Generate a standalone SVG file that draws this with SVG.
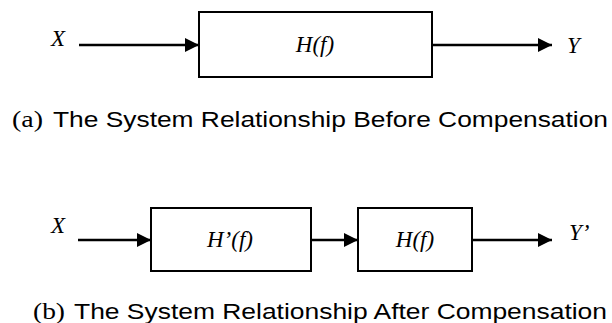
<svg xmlns="http://www.w3.org/2000/svg" width="612" height="323" viewBox="0 0 612 323">
<style>
.box{fill:#fff;stroke:#000;stroke-width:2}
.wire{stroke:#000;stroke-width:2.5;fill:none}
.math{font-family:"Liberation Serif","Times New Roman",serif;font-style:italic;font-size:23px;fill:#000}
.cap{font-family:"Liberation Sans",Arial,sans-serif;font-size:22px;fill:#000}
.lbl{font-family:"Liberation Serif","Times New Roman",serif;font-size:23px;fill:#000}
</style>
<defs>
<marker id="ah" markerUnits="userSpaceOnUse" viewBox="0 0 14 14" refX="14" refY="7" markerWidth="14" markerHeight="14" orient="auto">
<path d="M0,0 L14,7 L0,14 z" fill="#000"/>
</marker>
</defs>
<rect width="612" height="323" fill="#fff"/>
<g id="connectors">
<line class="wire" x1="79" y1="45" x2="199" y2="45" marker-end="url(#ah)"/>
<line class="wire" x1="432" y1="45" x2="552" y2="45" marker-end="url(#ah)"/>
<line class="wire" x1="78" y1="240" x2="151" y2="240" marker-end="url(#ah)"/>
<line class="wire" x1="311" y1="240" x2="358" y2="240" marker-end="url(#ah)"/>
<line class="wire" x1="472" y1="240" x2="552" y2="240" marker-end="url(#ah)"/>
</g>
<g id="a-input"><text class="math" x="51" y="46">X</text></g>
<g id="a-H">
<rect class="box" x="199" y="12" width="233" height="65"/>
<text class="math" x="315" y="52" text-anchor="middle">H(f)</text>
</g>
<g id="a-output"><text class="math" x="567" y="53">Y</text></g>
<g id="caption-a">
<text class="lbl" x="12" y="127" textLength="31" lengthAdjust="spacingAndGlyphs">(a)</text>
<text class="cap" x="53" y="127" textLength="555" lengthAdjust="spacingAndGlyphs">The System Relationship Before Compensation</text>
</g>
<g id="b-input"><text class="math" x="51" y="233">X</text></g>
<g id="b-Hprime">
<rect class="box" x="151" y="208" width="160" height="63"/>
<text class="math" x="230" y="247" text-anchor="middle">H’(f)</text>
</g>
<g id="b-H">
<rect class="box" x="358" y="208" width="114" height="63"/>
<text class="math" x="415" y="247" text-anchor="middle">H(f)</text>
</g>
<g id="b-output"><text class="math" x="569" y="240">Y’</text></g>
<g id="caption-b">
<text class="lbl" x="33" y="319" textLength="32" lengthAdjust="spacingAndGlyphs">(b)</text>
<text class="cap" x="74" y="319" textLength="533" lengthAdjust="spacingAndGlyphs">The System Relationship After Compensation</text>
</g>
</svg>
